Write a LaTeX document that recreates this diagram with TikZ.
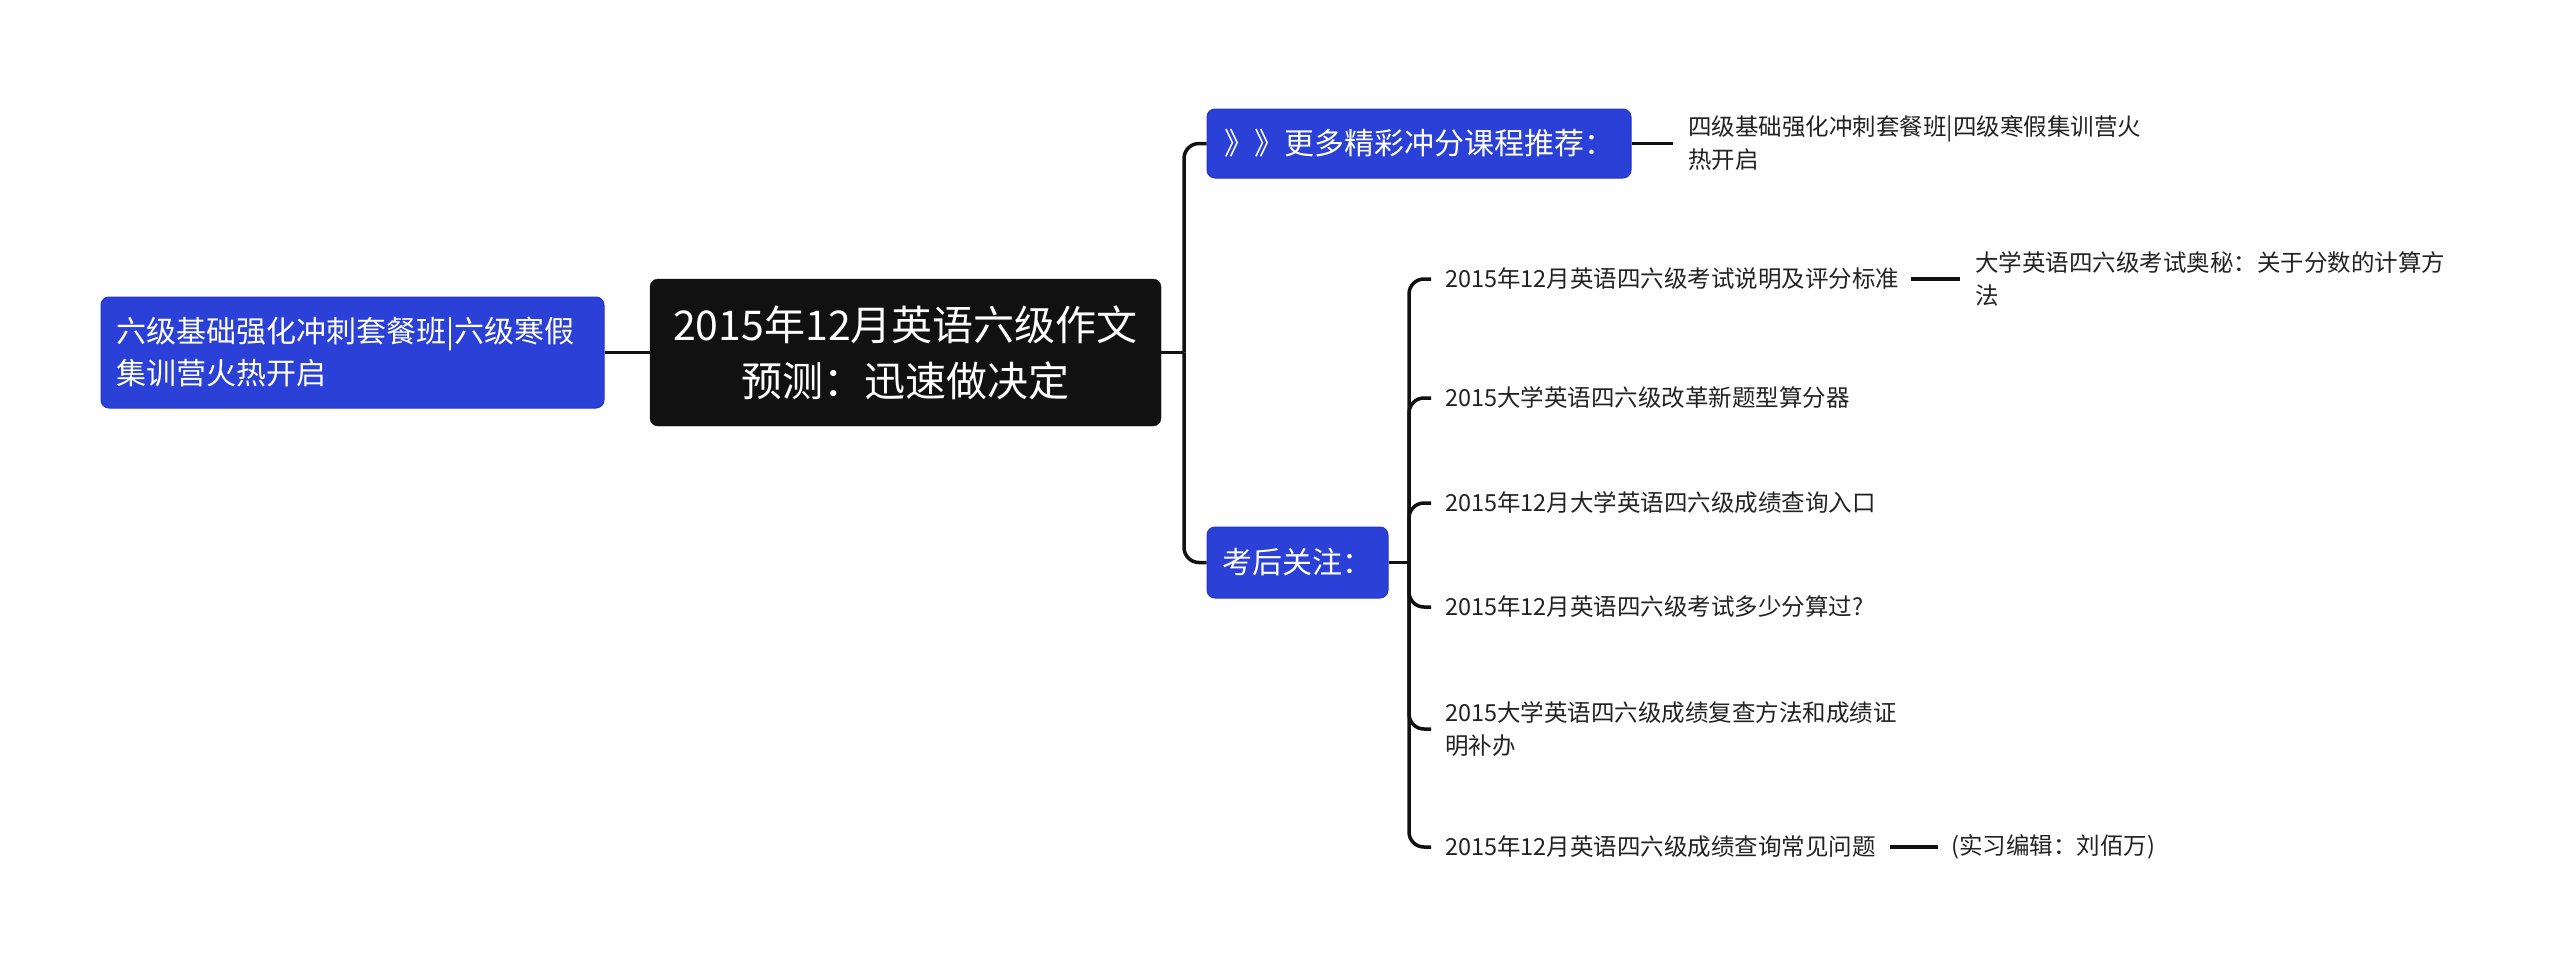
\documentclass[tikz,border=0pt]{standalone}
\usepackage{fontspec}
\setmainfont{Noto Sans CJK SC}
\definecolor{boxblue}{HTML}{2A40D6}
\definecolor{boxblueborder}{HTML}{2537C4}
\definecolor{rootblack}{HTML}{111111}
\definecolor{linecol}{HTML}{111111}
\definecolor{leaftext}{HTML}{222222}
\begin{document}
\begin{tikzpicture}[x=1pt,y=-1pt,
  rootbox/.style={draw=rootblack, fill=rootblack, rounded corners=8pt, text=white, inner sep=0pt, align=center,
    font=\fontsize{41}{56}\selectfont},
  bluebox/.style={draw=boxblueborder, fill=boxblue, rounded corners=8pt, text=white, inner sep=0pt, line width=1pt,
    font=\fontsize{30}{42}\selectfont},
  leaf/.style={anchor=west, inner sep=0pt, align=left, text=leaftext, font=\fontsize{23.5}{33}\selectfont},
  conn/.style={line width=3.5pt, draw=linecol, rounded corners=15pt},
  thickconn/.style={line width=4.5pt, draw=linecol}
]
\useasboundingbox (0,0) rectangle (2560,977);

% main nodes
\node[rootbox, minimum width=511pt, minimum height=147pt] (root) at (905.5,352.5) {2015年12月英语六级作文\\预测：迅速做决定};
\node[bluebox, minimum width=503pt, minimum height=111pt, text width=473pt, align=left] (left) at (352.5,352.5)
  {六级基础强化冲刺套餐班|六级寒假\\集训营火热开启};
\node[bluebox, minimum width=424pt, minimum height=69pt] (top) at (1419,143.5) {》》更多精彩冲分课程推荐：};
\node[bluebox, minimum width=181pt, minimum height=71pt] (after) at (1297.5,562.5) {考后关注：};

% leaves
\node[leaf] (r1) at (1688,143.5) {四级基础强化冲刺套餐班|四级寒假集训营火\\热开启};
\node[leaf] (c1) at (1445,279) {2015年12月英语四六级考试说明及评分标准};
\node[leaf] (c2) at (1445,398) {2015大学英语四六级改革新题型算分器};
\node[leaf] (c3) at (1445,503) {2015年12月大学英语四六级成绩查询入口};
\node[leaf] (c4) at (1445,607) {2015年12月英语四六级考试多少分算过?};
\node[leaf] (c5) at (1445,729) {2015大学英语四六级成绩复查方法和成绩证\\明补办};
\node[leaf] (c6) at (1445,847) {2015年12月英语四六级成绩查询常见问题};
\node[leaf] (g1) at (1975,279) {大学英语四六级考试奥秘：关于分数的计算方\\法};
\node[leaf] (g6) at (1951,847) {(实习编辑：刘佰万)};

% connectors
\coordinate (sp) at (1184,352.5);
\coordinate (bs) at (1409,562.5);
\draw[conn] (left.east) -- (root.west);
\draw[conn] (root.east) -- (sp);
\draw[conn] (sp) |- (top.west);
\draw[conn] (sp) |- (after.west);
\draw[conn] (top.east) -- ([xshift=-15pt]r1.west);
\draw[conn] (after.east) -- (bs);
\foreach \c in {c1,c2,c3,c4,c5,c6}{
  \draw[conn] (bs) |- ([xshift=-14pt]\c.west);
}
\draw[thickconn] ([xshift=11pt]c1.east) -- ([xshift=-15pt]g1.west);
\draw[thickconn] ([xshift=14pt]c6.east) -- ([xshift=-13pt]g6.west);
\end{tikzpicture}
\end{document}
